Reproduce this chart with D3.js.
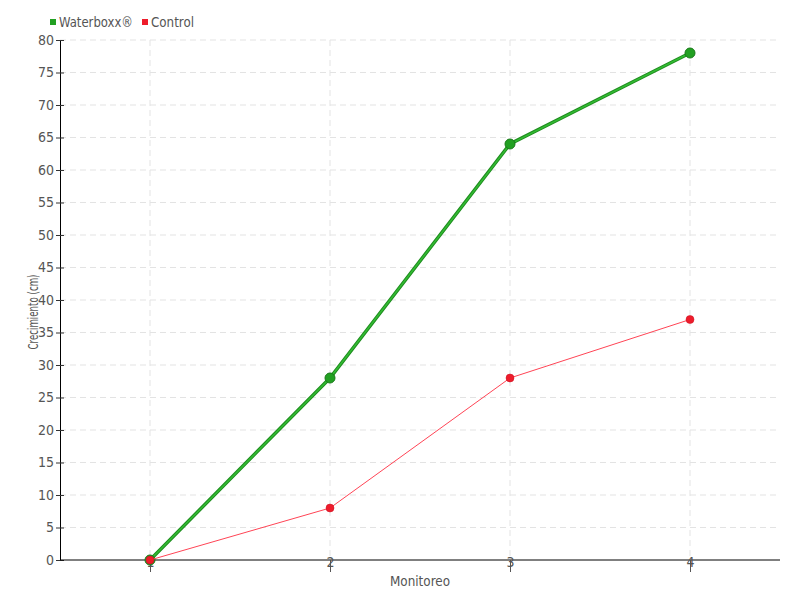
<!DOCTYPE html>
<html><head><meta charset="utf-8">
<script src="https://cdn.jsdelivr.net/npm/d3@7/dist/d3.min.js"></script>
<style>body{margin:0;background:#fff}svg text{font-family:"DejaVu Sans Condensed","DejaVu Sans",sans-serif;fill:#555}</style>
</head><body><svg id="c" width="800" height="600"></svg>
<script>
const categories = ["1","2","3","4"];
const waterboxx = [0,28,64,78];
const control = [0,8,28,37];
const yTicks = [0,5,10,15,20,25,30,35,40,45,50,55,60,65,70,75,80];
const seriesNames = ["Waterboxx®","Control"];
const colors = ["#22a022","#ee1c2b"];

const svg = d3.select("#c");
const m = {l:60,r:20,t:40,b:40};
const W=800,H=600;
const x = d3.scalePoint().domain(categories).range([m.l,W-m.r]).padding(0.5);
const y = d3.scaleLinear().domain([0,80]).range([H-m.b,m.t]);

// grid
const g = svg.append("g");
g.selectAll(".hg").data(yTicks.filter(d=>d>0)).join("line")
 .attr("x1",m.l).attr("x2",W-m.r).attr("y1",d=>y(d)).attr("y2",d=>y(d))
 .attr("stroke","#e3e3e3").attr("stroke-dasharray","6,4");
g.selectAll(".vg").data(categories).join("line")
 .attr("x1",d=>x(d)).attr("x2",d=>x(d)).attr("y1",m.t).attr("y2",H-m.b)
 .attr("stroke","#e3e3e3").attr("stroke-dasharray","6,4");

// axes
const yAxis = svg.append("g").attr("transform",`translate(${m.l},0)`)
 .call(d3.axisLeft(y).tickValues(yTicks).tickSize(0).tickPadding(6));
yAxis.select(".domain").attr("stroke","#000");
yAxis.selectAll(".tick line").attr("x1",-4).attr("x2",4).attr("stroke","#333");
yAxis.selectAll(".tick text").style("font-size","14px").attr("fill","#555");
const xAxis = svg.append("g").attr("transform",`translate(0,${H-m.b})`)
 .call(d3.axisBottom(x).tickSize(12).tickPadding(-6));
xAxis.select(".domain").attr("stroke","#000").attr("d",`M${m.l},0H${W-m.r}`);
xAxis.selectAll(".tick line").attr("stroke","#555");
xAxis.selectAll(".tick text").style("font-size","14px").attr("fill","#555").attr("dy","0.1em");

// lines
const line = d3.line().x((d,i)=>x(categories[i])).y(d=>y(d));
svg.append("path").datum(waterboxx).attr("d",line).attr("fill","none").attr("stroke","#1e8c1e").attr("stroke-width",3.5);
svg.append("path").datum(waterboxx).attr("d",line).attr("fill","none").attr("stroke","#33bb33").attr("stroke-width",1.5);
svg.selectAll(".wp").data(waterboxx).join("circle").attr("cx",(d,i)=>x(categories[i])).attr("cy",d=>y(d))
 .attr("r",5).attr("fill","#22a022").attr("stroke","#1a7a1a").attr("stroke-width",1);
svg.append("path").datum(control).attr("d",line).attr("fill","none").attr("stroke","#ff4455").attr("stroke-width",1);
svg.selectAll(".cp").data(control).join("circle").attr("cx",(d,i)=>x(categories[i])).attr("cy",d=>y(d))
 .attr("r",4).attr("fill","#ee1c2b").attr("stroke","#c81020").attr("stroke-width",0.5);

// axis titles
svg.append("text").attr("x",420).attr("y",586).attr("text-anchor","middle").style("font-size","14px")
 .attr("textLength",60).attr("lengthAdjust","spacingAndGlyphs").text("Monitoreo");
svg.append("text").attr("transform","translate(38,312) rotate(-90)").attr("text-anchor","middle").style("font-size","14px")
 .attr("textLength",75).attr("lengthAdjust","spacingAndGlyphs").text("Crecimiento (cm)");

// legend
const lx=[50,142];
const lw=[74,43];
seriesNames.forEach((n,i)=>{
  svg.append("rect").attr("x",lx[i]).attr("y",19).attr("width",6).attr("height",6).attr("fill",colors[i]);
  svg.append("text").attr("x",lx[i]+9).attr("y",27).style("font-size","14px")
   .attr("textLength",lw[i]).attr("lengthAdjust","spacingAndGlyphs").text(n);
});
</script></body></html>
